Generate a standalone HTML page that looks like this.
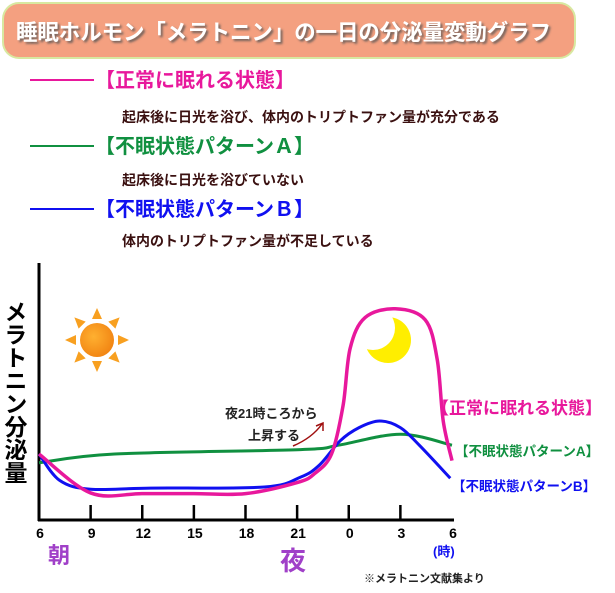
<!DOCTYPE html>
<html><head><meta charset="utf-8"><style>
body{margin:0;background:#fff;}
svg text{font-family:"Liberation Sans","Noto Sans CJK JP",sans-serif;font-weight:bold;}
</style></head><body>
<svg id="chart" width="615" height="588" viewBox="0 0 615 588" xmlns="http://www.w3.org/2000/svg">
<defs>
<radialGradient id="sung" cx="0.4" cy="0.4" r="0.7"><stop offset="0" stop-color="#ffb030"/><stop offset="1" stop-color="#f08010"/></radialGradient>
<filter id="sh"><feDropShadow dx="2" dy="2" stdDeviation="1" flood-color="#555" flood-opacity="0.8"/></filter>
</defs>
<rect x="3" y="3" width="572" height="55" rx="16" fill="#f4a080" stroke="#d8e8a0" stroke-width="2"/>
<text x="16" y="40" font-size="22" fill="#fff" filter="url(#sh)" textLength="535" lengthAdjust="spacingAndGlyphs">睡眠ホルモン「メラトニン」の一日の分泌量変動グラフ</text>

<g>
<line x1="30" y1="80" x2="94" y2="80" stroke="#e8189c" stroke-width="2"/>
<text x="95" y="87" font-size="20" fill="#e8189c">【正常に眠れる状態】</text>
<text x="122" y="122" font-size="14" fill="#3a1010">起床後に日光を浴び、体内のトリプトファン量が充分である</text>
</g>
<g>
<line x1="30" y1="146" x2="94" y2="146" stroke="#109040" stroke-width="2"/>
<text x="95" y="153" font-size="20" fill="#109040">【不眠状態パターンＡ】</text>
<text x="122" y="185" font-size="14" fill="#3a1010">起床後に日光を浴びていない</text>
</g>
<g>
<line x1="30" y1="209" x2="94" y2="209" stroke="#1010f0" stroke-width="2"/>
<text x="95" y="216" font-size="20" fill="#1010f0">【不眠状態パターンＢ】</text>
<text x="122" y="246" font-size="14" fill="#3a1010">体内のトリプトファン量が不足している</text>
</g>

<g id="axes"></g>
<g id="sun"></g>
<g>
<circle cx="388" cy="340" r="23" fill="#ffee00"/>
<circle cx="373" cy="328" r="22" fill="#fff"/>
</g>
<g id="series"></g>

<text font-size="23" fill="#000" style="writing-mode:vertical-rl;glyph-orientation-vertical:0" x="14" y="300">メラトニン分泌量</text>

<text x="225" y="418" font-size="13" fill="#222">夜21時ころから</text>
<text x="248" y="440" font-size="13" fill="#222">上昇する</text>
<path d="M293,446 Q312,438 322,424 M316,426 L323,423 L323,431" fill="none" stroke="#a01010" stroke-width="1.5"/>

<text x="432" y="414" font-size="17" fill="#e8189c">【正常に眠れる状態】</text>
<text x="455" y="456" font-size="13.5" fill="#109040">【不眠状態パターンA】</text>
<text x="452" y="491" font-size="13.5" fill="#1010f0">【不眠状態パターンB】</text>

<text x="48" y="563" font-size="22" fill="#a040c8">朝</text>
<text x="280" y="570" font-size="26" fill="#a040c8">夜</text>
<text x="433" y="556" font-size="13" fill="#1010f0">(時)</text>
<text x="364" y="582" font-size="11" fill="#222">※メラトニン文献集より</text>
</svg>
<script>
const tickLabels=["6","9","12","15","18","21","0","3","6"];
const tickHours=[0,3,6,9,12,15,18,21,24];
const normalHours=[0,3,6,9,12,15,16,17,17.67,18.08,18.95,20.7,22.44,23.14,23.49,24];
const normalValues=[30,12.3,12,12,12,17,21,30,52,78,92,96,91,73,45,27];
const aHours=[0,4.4,15.2,17.4,21,24];
const aValues=[26,30,32,34,39,34];
const bHours=[0,1.2,3,6.5,13.1,15.2,16.3,17.5,18.6,19.8,21,22.1,23.9];
const bValues=[30,18,14,14.5,15,19.5,25,36,42,45,42,34,19];

const NS="http://www.w3.org/2000/svg";
const X0=39,X1=452,Y0=520;
function xs(h){return X0+h*(X1-X0)/24;}
function ys(v){return Y0-v*2.2;}
function mk(tag,attrs,parent){const e=document.createElementNS(NS,tag);for(const k in attrs)e.setAttribute(k,attrs[k]);parent.appendChild(e);return e;}

const axes=document.getElementById('axes');
const ya=mk('line',{x1:X0,y1:263,x2:X0,y2:Y0+1,stroke:'#000','stroke-width':3},axes);


const xa=mk('line',{x1:X0-1,y1:Y0,x2:454,y2:Y0,stroke:'#000','stroke-width':3},axes);


tickHours.forEach((h,i)=>{
  if(i>0&&i<8){const t=mk('line',{x1:xs(h),y1:505,x2:xs(h),y2:Y0,stroke:'#000','stroke-width':2.5},axes);
  
  }
  const tx=mk('text',{x:xs(h)+1,y:538,'font-size':14,fill:'#000','text-anchor':'middle','font-weight':'normal'},axes);
  tx.textContent=tickLabels[i];
  
  
});

function pathFor(hs,vs){
  const p=hs.map((h,i)=>[xs(h),ys(vs[i])]);
  let d='M'+p[0][0]+','+p[0][1];
  for(let i=0;i<p.length-1;i++){
    const p0=p[i-1]||p[i],p1=p[i],p2=p[i+1],p3=p[i+2]||p2;
    const c1=[p1[0]+(p2[0]-p0[0])/6,p1[1]+(p2[1]-p0[1])/6];
    const c2=[p2[0]-(p3[0]-p1[0])/6,p2[1]-(p3[1]-p1[1])/6];
    d+=' C'+c1+' '+c2+' '+p2;
  }
  return d;
}
const series=document.getElementById('series');
const ga=mk('path',{d:pathFor(aHours,aValues),fill:'none',stroke:'#109040','stroke-width':3},series);


const gb=mk('path',{d:pathFor(bHours,bValues),fill:'none',stroke:'#1010f0','stroke-width':3},series);


const gn=mk('path',{d:pathFor(normalHours,normalValues),fill:'none',stroke:'#e8189c','stroke-width':3.5},series);



const sun=document.getElementById('sun');
const cx=97,cy=340;
for(let i=0;i<8;i++){
  const a=i*Math.PI/4;
  const px=-Math.sin(a),py=Math.cos(a),dx=Math.cos(a),dy=Math.sin(a);
  const r1=21,r2=32,w=5;
  mk('polygon',{points:[[cx+dx*r1+px*w,cy+dy*r1+py*w],[cx+dx*r1-px*w,cy+dy*r1-py*w],[cx+dx*r2,cy+dy*r2]].map(q=>q.join(',')).join(' '),fill:'#f8a020'},sun);
}
mk('circle',{cx:cx,cy:cy,r:17,fill:'url(#sung)'},sun);
</script>
</body></html>
